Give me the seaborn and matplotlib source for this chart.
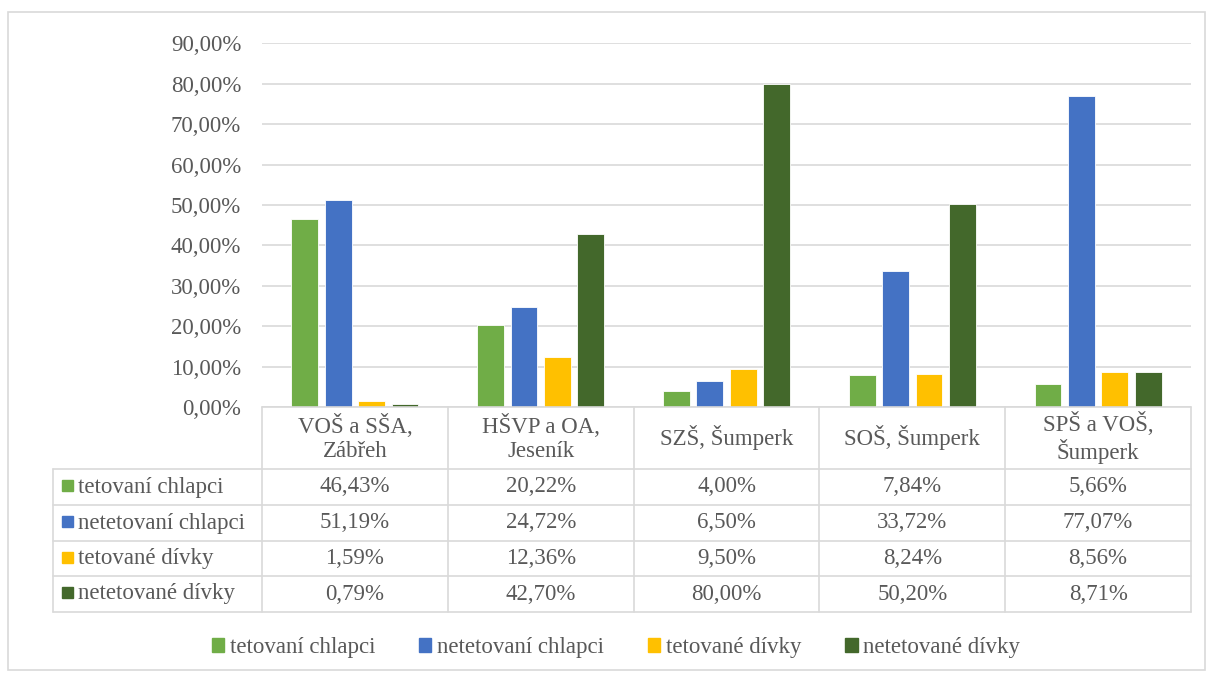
import matplotlib
matplotlib.use("Agg")
import matplotlib.pyplot as plt
import seaborn as sns
import pandas as pd
from matplotlib.lines import Line2D
from matplotlib.patches import Rectangle

categories = ["VOŠ a SŠA,\nZábřeh", "HŠVP a OA,\nJeseník", "SZŠ, Šumperk", "SOŠ, Šumperk", "SPŠ a VOŠ,\nŠumperk"]
series = ["tetovaní chlapci", "netetovaní chlapci", "tetované dívky", "netetované dívky"]
tetovani_chlapci = [46.43, 20.22, 4.00, 7.84, 5.66]
netetovani_chlapci = [51.19, 24.72, 6.50, 33.72, 77.07]
tetovane_divky = [1.59, 12.36, 9.50, 8.24, 8.56]
netetovane_divky = [0.79, 42.70, 80.00, 50.20, 8.71]
colors = ["#70AD47", "#4472C4", "#FFC000", "#43682B"]
yticks = [0.0, 0.1, 0.2, 0.3, 0.4, 0.5, 0.6, 0.7, 0.8, 0.9]

values = [tetovani_chlapci, netetovani_chlapci, tetovane_divky, netetovane_divky]
rows = []
for s, vals in zip(series, values):
    for c, v in zip(categories, vals):
        rows.append({"cat": c, "series": s, "value": v / 100.0})
df = pd.DataFrame(rows)

sns.set_theme(style="white")
plt.rcParams["font.family"] = ["Liberation Serif", "DejaVu Serif"]
TXT = "#595959"
GRID = "#D9D9D9"
FS = 16.5

W, H = 1210, 678
fig = plt.figure(figsize=(W / 100, H / 100), dpi=100)

def fx(x):
    return x / W

def fy(y):
    return 1 - y / H

left, right, top, bottom = 262, 1191, 43.4, 407
ax = fig.add_axes([fx(left), fy(bottom), fx(right) - fx(left), fy(top) - fy(bottom)])
sns.barplot(data=df, x="cat", y="value", hue="series", hue_order=series, order=categories,
            palette=colors, saturation=1, width=0.72, gap=0.2, ax=ax, legend=False,
            edgecolor="#FFFFFF", linewidth=0.6, errorbar=None)
ax.set_ylim(0, 0.9)
ax.set_xlim(-0.5, len(categories) - 0.5)
ax.set_yticks(yticks)
ax.set_yticklabels([f"{v*100:.2f}%".replace(".", ",") for v in yticks], color=TXT, fontsize=FS)
ax.tick_params(axis="y", length=0, pad=15)
ax.set_xticks([])
ax.set_xlabel("")
ax.set_ylabel("")
for sp in ax.spines.values():
    sp.set_visible(False)
ax.yaxis.grid(True, color=GRID, linewidth=1.2)
ax.set_axisbelow(True)

# data table
col_edges = [left + i * (right - left) / len(categories) for i in range(len(categories) + 1)]
row_edges = [407, 469, 505, 541, 576, 612]
tleft = 53

def hline(x0, x1, y):
    fig.add_artist(Line2D([fx(x0), fx(x1)], [fy(y), fy(y)], color=GRID, lw=1.2))

def vline(x, y0, y1):
    fig.add_artist(Line2D([fx(x), fx(x)], [fy(y0), fy(y1)], color=GRID, lw=1.2))

hline(left, right, row_edges[0])
for y in row_edges[1:]:
    hline(tleft, right, y)
for x in col_edges:
    vline(x, row_edges[0], row_edges[-1])
vline(tleft, row_edges[1], row_edges[-1])

for i, c in enumerate(categories):
    cx = (col_edges[i] + col_edges[i + 1]) / 2
    cy = (row_edges[0] + row_edges[1]) / 2
    fig.text(fx(cx), fy(cy), c, ha="center", va="center", color=TXT, fontsize=FS,
             linespacing=1.15)

for r, (s, vals, col) in enumerate(zip(series, values, colors)):
    cy = (row_edges[r + 1] + row_edges[r + 2]) / 2
    fig.add_artist(Rectangle((fx(tleft + 9), fy(cy + 4)), fx(11), 11 / H, color=col))
    fig.text(fx(tleft + 25), fy(cy), s, ha="left", va="center", color=TXT, fontsize=FS)
    for i, v in enumerate(vals):
        cx = (col_edges[i] + col_edges[i + 1]) / 2
        fig.text(fx(cx), fy(cy), f"{v:.2f}%".replace(".", ","), ha="center", va="center",
                 color=TXT, fontsize=FS)

# legend
handles = [Rectangle((0, 0), 1, 1, color=c) for c in colors]
fig.legend(handles, series, loc="center", bbox_to_anchor=(fx(616), fy(648)), ncol=4,
           frameon=False, fontsize=FS, labelcolor=TXT, handlelength=0.55, handleheight=0.55,
           handletextpad=0.25, columnspacing=1.9)

# chart border
fig.add_artist(Rectangle((fx(8), fy(670)), fx(1197), (670 - 12) / H, fill=False,
                         edgecolor="#D9D9D9", lw=1.2))

fig.savefig("out.png", dpi=100)
